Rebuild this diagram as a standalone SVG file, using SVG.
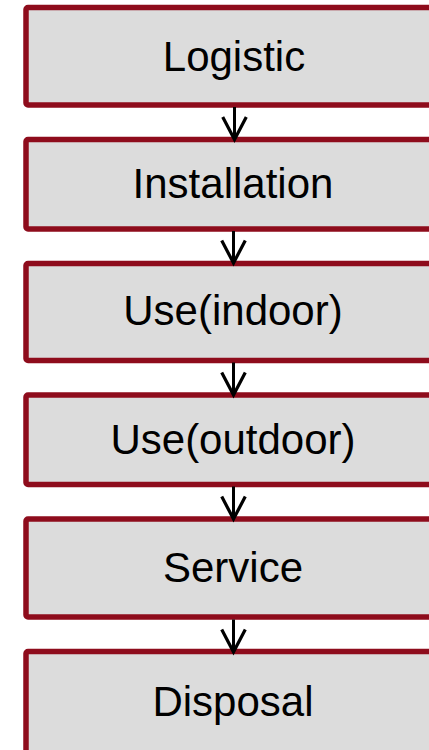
<svg xmlns="http://www.w3.org/2000/svg" width="429" height="750" viewBox="0 0 429 750">
<style>
.box{fill:#dcdcdc;stroke:#8e0c1c;stroke-width:5.5;}
.lbl{font-family:"Liberation Sans",Arial,sans-serif;font-size:42px;fill:#000;text-anchor:middle;}
.conn{stroke:#000;stroke-width:3;fill:none;}
</style>
<defs>
<marker id="arr" markerUnits="userSpaceOnUse" markerWidth="30" markerHeight="30" viewBox="-24 -14 28 28" refX="0" refY="0" orient="auto">
<path d="M-21 -11 L0 0 L-21 11" fill="none" stroke="#000" stroke-width="3"/>
</marker>
</defs>
<rect width="429" height="750" fill="#fff"/>
<g id="node-logistic"><rect class="box" x="26" y="7.5" width="416" height="97.5" rx="2"/><text class="lbl" x="234" y="71">Logistic</text></g>
<g id="node-installation"><rect class="box" x="26" y="139.5" width="416" height="89.5" rx="2"/><text class="lbl" x="233" y="197.5">Installation</text></g>
<g id="node-use-indoor"><rect class="box" x="26" y="263.5" width="416" height="97" rx="2"/><text class="lbl" x="233" y="325">Use(indoor)</text></g>
<g id="node-use-outdoor"><rect class="box" x="26" y="395" width="416" height="89.5" rx="2"/><text class="lbl" x="233" y="453.5">Use(outdoor)</text></g>
<g id="node-service"><rect class="box" x="26" y="519" width="416" height="98" rx="2"/><text class="lbl" x="233" y="581.5">Service</text></g>
<g id="node-disposal"><rect class="box" x="26" y="651.5" width="416" height="110" rx="2"/><text class="lbl" x="233" y="716">Disposal</text></g>
<g id="connectors" class="conn">
<path d="M234.5 107 V139.5" marker-end="url(#arr)"/>
<path d="M233.5 231 V263" marker-end="url(#arr)"/>
<path d="M233.5 362.5 V395" marker-end="url(#arr)"/>
<path d="M233.5 486.5 V519" marker-end="url(#arr)"/>
<path d="M233.5 619.5 V652" marker-end="url(#arr)"/>
</g>
</svg>
